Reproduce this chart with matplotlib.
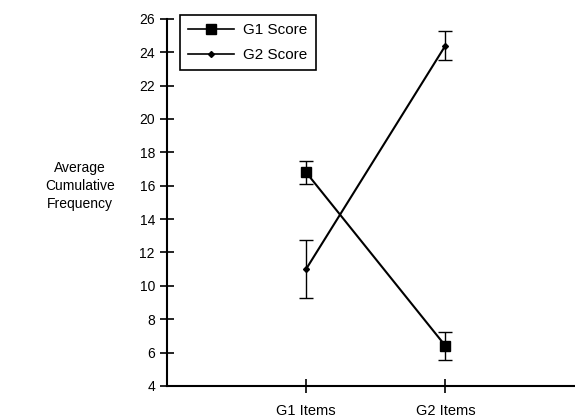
import matplotlib
matplotlib.use("Agg")
import matplotlib.pyplot as plt
from matplotlib.lines import Line2D

plt.rcParams['font.family'] = ['Liberation Sans', 'DejaVu Sans']

conditions = ['G1 Items', 'G2 Items']
x_pos = [1, 2]
g1_score = [16.8, 6.4]
g1_err = [0.7, 0.85]
g2_score = [11.0, 24.4]
g2_err = [1.75, 0.85]

fig = plt.figure(figsize=(5.75, 4.19), dpi=100)
ax = fig.add_axes([0.290, 0.079, 0.710, 0.876])

ax.errorbar(x_pos, g1_score, yerr=g1_err, color='black', marker='s', markersize=7,
            linewidth=1.5, elinewidth=1, capsize=5, capthick=1)
ax.errorbar(x_pos, g2_score, yerr=g2_err, color='black', marker='D', markersize=3,
            linewidth=1.5, elinewidth=1, capsize=5, capthick=1)

ax.set_xlim(0, 2.93)
ax.set_ylim(4, 26)
ax.set_yticks(range(4, 27, 2))
ax.set_xticks(x_pos)
ax.set_xticklabels(conditions)
ax.tick_params(direction='inout', length=10, width=1.2, labelsize=10, colors='black')
ax.tick_params(axis='x', pad=8, labelsize=10.5)

for s in ['top', 'right']:
    ax.spines[s].set_visible(False)
for s in ['left', 'bottom']:
    ax.spines[s].set_linewidth(1.5)

fig.text(0.139, 0.556, 'Average\nCumulative\nFrequency', ha='center', va='center',
         fontsize=10, linespacing=1.35)

handles = [Line2D([], [], color='black', marker='s', markersize=7, linewidth=1.2),
           Line2D([], [], color='black', marker='D', markersize=3, linewidth=1.2)]
leg = ax.legend(handles, ['G1 Score', 'G2 Score'], loc='upper left',
                bbox_to_anchor=(0.032, 1.011), borderaxespad=0,
                fontsize=11, fancybox=False, edgecolor='black', framealpha=1,
                handlelength=3.0, handletextpad=0.6, borderpad=0.55, labelspacing=0.7)
leg.get_frame().set_linewidth(1.2)

fig.savefig('out.png', dpi=100)
